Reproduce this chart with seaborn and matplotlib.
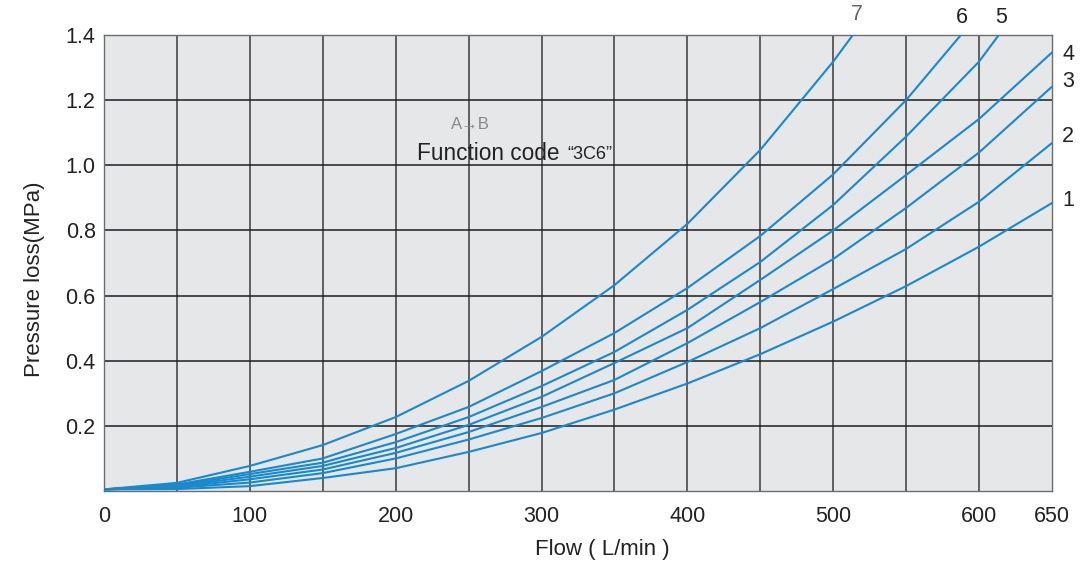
import pandas as pd
import matplotlib
matplotlib.use("Agg")
import matplotlib.pyplot as plt
import seaborn as sns

# Flow (L/min) sample points
flow = [0, 50, 100, 150, 200, 250, 300, 350, 400, 450, 500, 550, 600, 650]

# Pressure loss (MPa) per curve
curve_1 = [0.005, 0.006, 0.015, 0.04, 0.07, 0.12, 0.178, 0.25, 0.33, 0.42, 0.52, 0.629, 0.75, 0.884]
curve_2 = [0.005, 0.01, 0.026, 0.055, 0.10, 0.158, 0.224, 0.30, 0.396, 0.50, 0.62, 0.743, 0.888, 1.068]
curve_3 = [0.005, 0.012, 0.036, 0.066, 0.117, 0.181, 0.258, 0.341, 0.454, 0.58, 0.712, 0.869, 1.039, 1.241]
curve_4 = [0.005, 0.015, 0.044, 0.077, 0.132, 0.203, 0.289, 0.393, 0.50, 0.648, 0.80, 0.97, 1.142, 1.346]
# curves 5-7 run off the top of the chart, so they end early
flow_5 = [0, 50, 100, 150, 200, 250, 300, 350, 400, 450, 500, 550, 600, 613.6]
curve_5 = [0.005, 0.017, 0.052, 0.087, 0.15, 0.227, 0.322, 0.427, 0.556, 0.703, 0.878, 1.088, 1.318, 1.4]
flow_6 = [0, 50, 100, 150, 200, 250, 300, 350, 400, 450, 500, 550, 587.6]
curve_6 = [0.005, 0.02, 0.059, 0.10, 0.175, 0.258, 0.368, 0.485, 0.623, 0.783, 0.972, 1.2, 1.4]
flow_7 = [0, 50, 100, 150, 200, 250, 300, 350, 400, 450, 500, 513.5]
curve_7 = [0.005, 0.025, 0.077, 0.141, 0.227, 0.338, 0.473, 0.632, 0.82, 1.047, 1.318, 1.4]

curve_names = ["1", "2", "3", "4", "5", "6", "7"]
label_pos = [(657, 0.893), (657, 1.087), (657, 1.256), (657, 1.339),
             (615, 1.455), (588, 1.455), (516, 1.462)]

x_ticks = [0, 100, 200, 300, 400, 500, 600, 650]
y_ticks = [0.2, 0.4, 0.6, 0.8, 1.0, 1.2, 1.4]


def build_frame():
    parts = []
    series = [(flow, curve_1), (flow, curve_2), (flow, curve_3), (flow, curve_4),
              (flow_5, curve_5), (flow_6, curve_6), (flow_7, curve_7)]
    for name, (xs, ys) in zip(curve_names, series):
        parts.append(pd.DataFrame({"flow": xs, "loss": ys, "curve": name}))
    return pd.concat(parts, ignore_index=True)


def main():
    sns.set_style("white")
    plt.rcParams["font.family"] = ["Liberation Sans", "DejaVu Sans"]

    df = build_frame()

    fig = plt.figure(figsize=(10.87, 5.64), dpi=100)
    ax = fig.add_axes([0.0957, 0.1294, 0.872, 0.8086])
    ax.set_facecolor("#e6e7e9")

    sns.lineplot(data=df, x="flow", y="loss", units="curve", estimator=None,
                 color="#1789cf", linewidth=1.5, ax=ax, legend=False, zorder=3)

    ax.set_xlim(0, 650)
    ax.set_ylim(0, 1.4)

    # grid every 50 L/min and 0.2 MPa
    for gx in range(50, 650, 50):
        ax.axvline(gx, color="#3a3a3a", linewidth=1.1, zorder=1)
    for gy in y_ticks[:-1]:
        ax.axhline(gy, color="#1e1e1e", linewidth=1.1, zorder=1)

    ax.set_xticks(x_ticks)
    ax.set_xticklabels([str(t) for t in x_ticks])
    ax.set_yticks(y_ticks)
    ax.set_yticklabels([f"{t:.1f}" for t in y_ticks])
    ax.tick_params(length=0, labelsize=15.5, colors="#222222")
    ax.tick_params(axis="y", pad=6)
    ax.tick_params(axis="x", pad=11)

    for s in ax.spines.values():
        s.set_color("#6d6d6d")
        s.set_linewidth(1.0)

    ax.set_xlabel("Flow ( L/min )", fontsize=16, color="#222222")
    ax.set_ylabel("Pressure loss(MPa)", fontsize=16, color="#222222")
    ax.xaxis.set_label_coords(0.526, -0.105)
    ax.yaxis.set_label_coords(-0.062, 0.465)

    # curve number labels
    for name, (lx, ly) in zip(curve_names, label_pos):
        ax.text(lx, ly, name, fontsize=15.5, color="#666666" if name == "7" else "#222222",
                ha="left" if lx > 640 else "center", va="center", clip_on=False)

    ax.text(251, 1.124, "A\u2192B", fontsize=12, color="#888888", ha="center", va="center")
    ax.text(214.5, 1.035, "Function code", fontsize=16.3, color="#222222",
            ha="left", va="center")
    ax.text(318, 1.033, "\u201c3C6\u201d", fontsize=13, color="#222222",
            ha="left", va="center")

    fig.savefig("out.png", dpi=100)


if __name__ == "__main__":
    main()
